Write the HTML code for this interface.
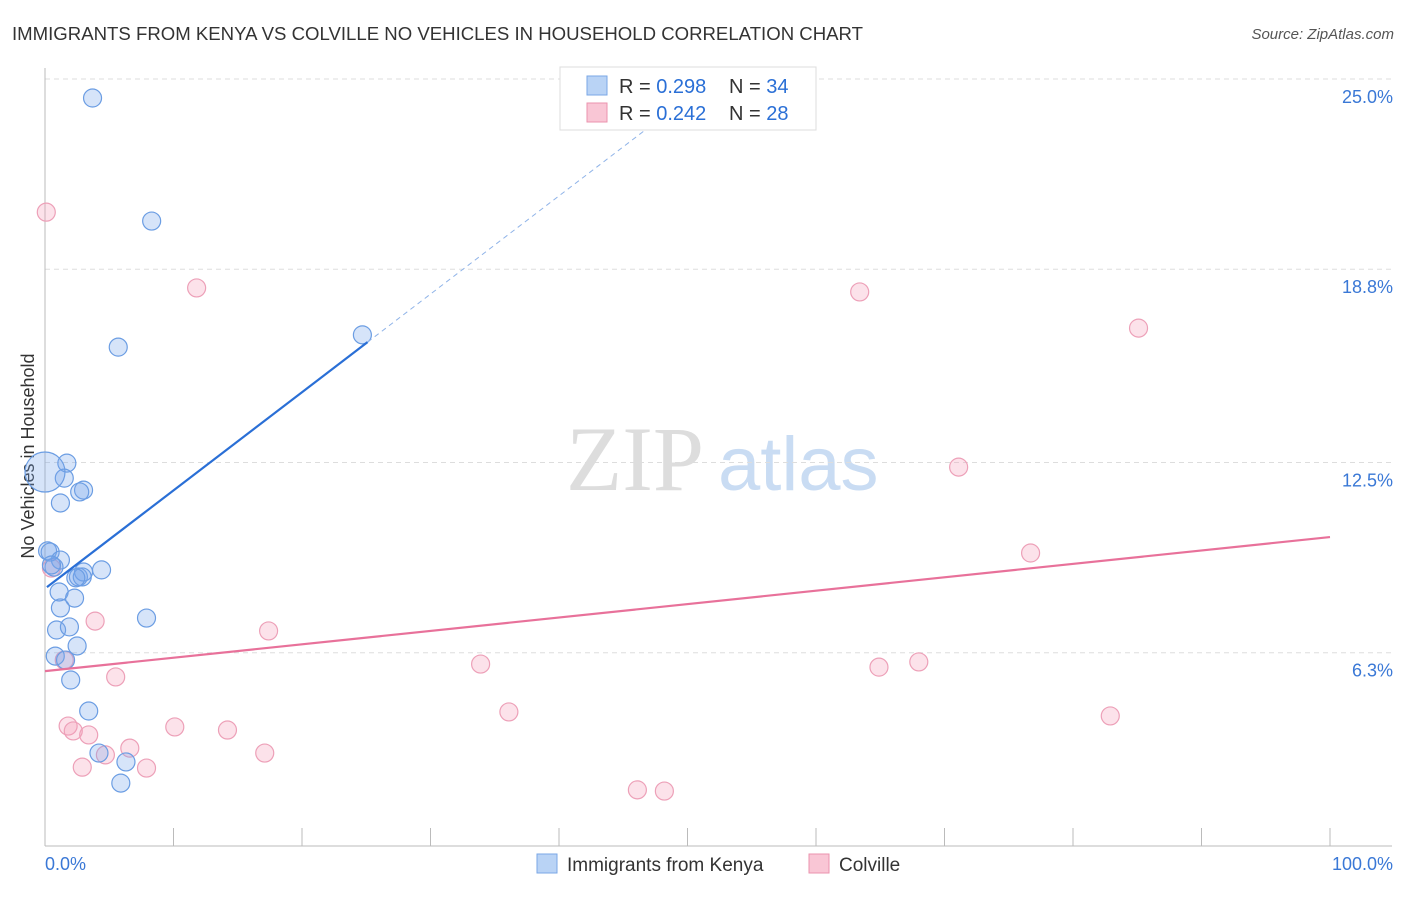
<!DOCTYPE html>
<html><head><meta charset="utf-8"><style>
body{margin:0;background:#fff;font-family:"Liberation Sans",sans-serif;}
</style></head><body>
<svg id="chart" width="1406" height="892" xmlns="http://www.w3.org/2000/svg" font-family="Liberation Sans, sans-serif">
<text x="12" y="40" font-size="18.6" fill="#333">IMMIGRANTS FROM KENYA VS COLVILLE NO VEHICLES IN HOUSEHOLD CORRELATION CHART</text>
<text x="1394" y="39" font-size="15" fill="#555" font-style="italic" text-anchor="end">Source: ZipAtlas.com</text>
<text transform="translate(34,456) rotate(-90)" font-size="18" fill="#333" text-anchor="middle">No Vehicles in Household</text>
<g><text x="635" y="490" font-size="92" fill="#ddd" font-family="Liberation Serif, serif" text-anchor="middle">ZIP</text><text x="718" y="490" font-size="76" fill="#c9dcf3">atlas</text></g>
<g id="grid"></g><g id="axes"></g><g id="marks"></g>
<g>
<rect x="560" y="67" width="256" height="63" fill="#fff" stroke="#ddd"/>
<rect x="587" y="76" width="20" height="19" fill="#b9d3f5" stroke="#7aa7e6"/>
<rect x="587" y="103" width="20" height="19" fill="#f9c6d5" stroke="#eb93ae"/>
<text x="619" y="93" font-size="20" fill="#333">R = <tspan fill="#2a6fd6">0.298</tspan></text>
<text x="729" y="93" font-size="20" fill="#333">N = <tspan fill="#2a6fd6">34</tspan></text>
<text x="619" y="120" font-size="20" fill="#333">R = <tspan fill="#2a6fd6">0.242</tspan></text>
<text x="729" y="120" font-size="20" fill="#333">N = <tspan fill="#2a6fd6">28</tspan></text>
</g>
<g>
<rect x="537" y="854" width="20" height="19" fill="#b9d3f5" stroke="#7aa7e6"/>
<text x="567" y="871" font-size="19" fill="#333">Immigrants from Kenya</text>
<rect x="809" y="854" width="20" height="19" fill="#f9c6d5" stroke="#eb93ae"/>
<text x="839" y="871" font-size="19" fill="#333">Colville</text>
</g>
</svg>
<script>
const yTicks=[6.3,12.5,18.8,25.0];
const yTickLabels=["6.3%","12.5%","18.8%","25.0%"];
const blueX=[3.7,8.3,5.7,24.7,1.7,1.5,3.0,2.7,1.2,0,0.2,0.4,1.2,0.7,2.6,3.0,2.9,2.4,4.4,1.1,2.3,1.2,7.9,0.9,1.9,2.5,0.8,1.6,2.0,3.4,4.2,6.3,5.9,0.5];
const blueY=[24.38,20.37,16.26,16.66,12.48,11.99,11.60,11.54,11.18,12.19,9.62,9.58,9.32,9.09,8.77,8.93,8.77,8.74,9.00,8.28,8.08,7.76,7.43,7.04,7.14,6.52,6.19,6.06,5.41,4.40,3.03,2.74,2.05,9.16];
const blueR=[9,9,9,9,9,9,9,9,9,20,9,9,9,9,9,9,9,9,9,9,9,9,9,9,9,9,9,9,9,9,9,9,9,9];
const pinkX=[0.1,11.8,63.4,85.1,71.1,76.7,0.5,3.9,17.4,1.5,5.5,33.9,64.9,68.0,36.1,82.9,1.8,2.2,10.1,14.2,3.4,6.6,4.7,17.1,2.9,7.9,46.1,48.2];
const pinkY=[20.66,18.19,18.06,16.88,12.35,9.55,9.06,7.33,7.01,6.06,5.51,5.93,5.83,6.00,4.37,4.24,3.91,3.75,3.88,3.78,3.62,3.19,2.97,3.03,2.57,2.54,1.83,1.79];
const blueTrend={a:8.39,b:0.32,solidEnd:25.1,dashEnd:47.5};
const pinkTrend={a:5.70,b:0.0437};
const NS="http://www.w3.org/2000/svg";
const sx=v=>45+v*12.85, sy=v=>846-v*30.68;
function mk(tag,attrs,parent){const e=document.createElementNS(NS,tag);for(const k in attrs)e.setAttribute(k,attrs[k]);parent.appendChild(e);return e;}
const grid=document.getElementById('grid'),axes=document.getElementById('axes'),marks=document.getElementById('marks');
yTicks.forEach((t,i)=>{
 const l=mk('line',{x1:45,x2:1392,y1:sy(t),y2:sy(t),stroke:'#ddd','stroke-dasharray':'5,4'},grid);
 
 
 const tx=mk('text',{x:1393,y:sy(t)+24,'font-size':18,fill:'#3a78d6','text-anchor':'end'},axes);
 tx.textContent=yTickLabels[i];
 
 
});
const ax=mk('line',{x1:45,x2:1392,y1:846,y2:846,stroke:'#bbb'},axes);


const ay=mk('line',{x1:45,x2:45,y1:68,y2:846,stroke:'#bbb'},axes);


for(let i=0;i<=10;i++){
 const t=mk('line',{x1:sx(i*10),x2:sx(i*10),y1:828,y2:846,stroke:'#bbb'},axes);
 
 
}
const xl=mk('text',{x:45,y:870,'font-size':18,fill:'#3a78d6'},axes);xl.textContent='0.0%';


const xr=mk('text',{x:1393,y:870,'font-size':18,fill:'#3a78d6','text-anchor':'end'},axes);xr.textContent='100.0%';


pinkX.forEach((x,i)=>{
 const c=mk('circle',{cx:sx(x),cy:sy(pinkY[i]),r:9,fill:'rgba(244,160,185,0.3)',stroke:'#eda0b8','stroke-width':1.2},marks);
 
 
});
blueX.forEach((x,i)=>{
 const c=mk('circle',{cx:sx(x),cy:sy(blueY[i]),r:blueR[i],fill:'rgba(120,165,235,0.3)',stroke:'#6b9de3','stroke-width':1.2},marks);
 
 
});
const bt=mk('line',{x1:sx(0.15),y1:sy(blueTrend.a+blueTrend.b*0.15),x2:sx(blueTrend.solidEnd),y2:sy(blueTrend.a+blueTrend.b*blueTrend.solidEnd),stroke:'#2a6fd6','stroke-width':2.2},marks);


const bd=mk('line',{x1:sx(blueTrend.solidEnd),y1:sy(blueTrend.a+blueTrend.b*blueTrend.solidEnd),x2:sx(blueTrend.dashEnd),y2:sy(blueTrend.a+blueTrend.b*blueTrend.dashEnd),stroke:'#8fb3e8','stroke-width':1,'stroke-dasharray':'5,4'},marks);


const pt=mk('line',{x1:sx(0),y1:sy(pinkTrend.a),x2:sx(100),y2:sy(pinkTrend.a+pinkTrend.b*100),stroke:'#e8719a','stroke-width':2.2},marks);


</script>
</body></html>
